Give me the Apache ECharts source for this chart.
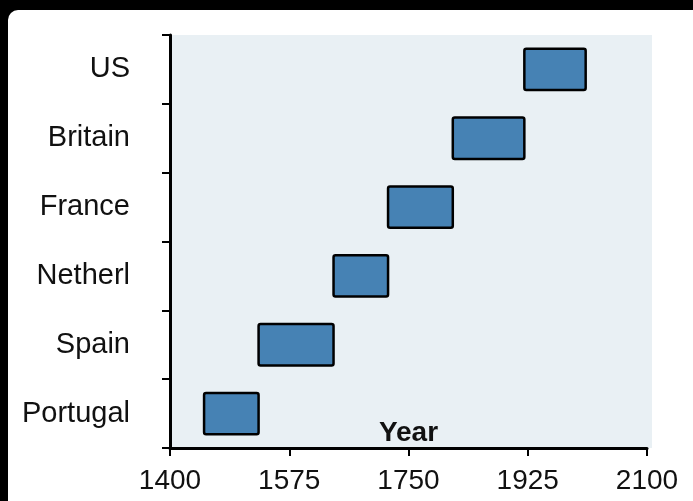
<!DOCTYPE html>
<html>
<head>
<meta charset="utf-8">
<script src="https://cdn.jsdelivr.net/npm/echarts@6/dist/echarts.min.js"></script>
<style>
  html, body { margin: 0; padding: 0; background: #000; }
  #chart { width: 693px; height: 501px; }
</style>
</head>
<body>
<div id="chart"></div>
<script>
// Dominant reserve-currency eras
const countries = ['Portugal', 'Spain', 'Netherl', 'France', 'Britain', 'US'];
const startYears = [1450, 1530, 1640, 1720, 1815, 1920];
const endYears = [1530, 1640, 1720, 1815, 1920, 2010];
const yearTicks = [1400, 1575, 1750, 1925, 2100];

const chart = echarts.init(document.getElementById('chart'), null, { renderer: 'canvas' });

const eraData = countries.map((c, i) => [i, startYears[i], endYears[i]]);
const fontFamily = '"Liberation Sans", Arial, sans-serif';

const option = {
  backgroundColor: '#000000',
  animation: false,
  graphic: [
    {
      type: 'rect', z: -10, silent: true,
      shape: { x: 8, y: 10, width: 700, height: 500, r: [10, 0, 0, 0] },
      style: { fill: '#ffffff' }
    },
    {
      type: 'rect', z: -5, silent: true,
      shape: { x: 170, y: 35, width: 482, height: 413 },
      style: { fill: '#e9f0f4' }
    }
  ],
  grid: { left: 170, right: 46, top: 35, bottom: 53, containLabel: false, outerBoundsMode: 'none' },
  xAxis: {
    type: 'value',
    min: yearTicks[0],
    max: yearTicks[yearTicks.length - 1],
    interval: yearTicks[1] - yearTicks[0],
    splitLine: { show: false },
    axisLine: { show: true, lineStyle: { color: '#000', width: 3 } },
    axisTick: { show: true, length: 8, lineStyle: { color: '#000', width: 2 } },
    axisLabel: {
      color: '#111', fontSize: 28, fontFamily: fontFamily, margin: 19,
      formatter: function (v) { return String(v); }
    },
    name: 'Year',
    nameLocation: 'middle',
    nameGap: -15,
    nameMoveOverlap: false,
    nameTextStyle: {
      color: '#111', fontSize: 28, fontWeight: 'bold', fontFamily: fontFamily,
      verticalAlign: 'middle'
    }
  },
  yAxis: {
    type: 'category',
    data: countries,
    axisLine: { show: true, lineStyle: { color: '#000', width: 3 } },
    axisTick: { show: true, length: 8, lineStyle: { color: '#000', width: 2 } },
    axisLabel: { color: '#111', fontSize: 29, fontFamily: fontFamily, margin: 40 },
    splitLine: { show: false }
  },
  series: [{
    type: 'custom',
    encode: { x: [1, 2], y: 0 },
    data: eraData,
    renderItem: function (params, api) {
      const idx = api.value(0);
      const a = api.coord([api.value(1), idx]);
      const b = api.coord([api.value(2), idx]);
      const h = api.size([0, 1])[1] * 0.6;
      return {
        type: 'rect',
        shape: { x: a[0], y: a[1] - h / 2, width: b[0] - a[0], height: h, r: 2 },
        style: { fill: '#4682b4', stroke: '#000000', lineWidth: 2.5 }
      };
    }
  }]
};

chart.setOption(option);
</script>
</body>
</html>
